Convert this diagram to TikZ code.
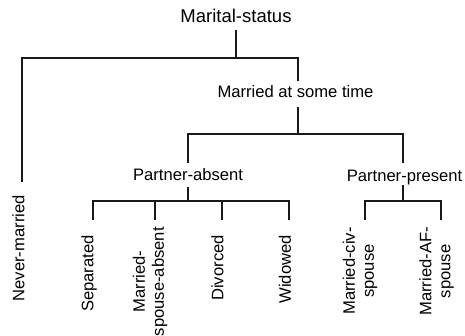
\documentclass[tikz,border=0pt]{standalone}
\usepackage{fontspec}
\setmainfont{Liberation Sans}
\newcommand\lblfont{\fontsize{16.6}{19}\selectfont}
\newcommand\rootfont{\fontsize{18.5}{22}\selectfont}
\begin{document}
\begin{tikzpicture}[x=1pt,y=-1pt,
  tree/.style={line width=1.25pt, draw=black!90},
  lbl/.style={inner sep=0pt, font=\lblfont, text=black},
  leaf/.style={lbl, rotate=90, anchor=east, align=center}]
\useasboundingbox (0,0) rectangle (465,336);
% labels
\node[lbl, font=\rootfont, anchor=base] (root) at (236,22.7) {Marital-status};
\node[lbl, anchor=base] (mast) at (295.5,97.7) {Married at some time};
\node[lbl, anchor=base] (pabs) at (188,180.7) {Partner-absent};
\node[lbl, anchor=base] (ppres) at (404.5,181.5) {Partner-present};
\node[leaf] (nm) at (18.5,195) {Never-married};
\node[leaf] (sep) at (89,235) {Separated};
\node[leaf] (msa) at (150,227) {Married-\\spouse-absent};
\node[leaf] (div) at (217.5,235) {Divorced};
\node[leaf] (wid) at (285,235) {Widowed};
\node[leaf] (mcs) at (360,227) {Married-civ-\\spouse};
\node[leaf] (maf) at (436.5,227) {Married-AF-\\spouse};
% junctions and line ends
\coordinate (j0) at (236,58);
\coordinate (nmE) at (22,182);
\coordinate (mastN) at (298,81);
\coordinate (mastS) at (298,107);
\coordinate (j1) at (298,134);
\coordinate (pabsN) at (188,163);
\coordinate (ppresN) at (403,163);
\coordinate (pabsS) at (188,187);
\coordinate (j2) at (188,201);
\coordinate (ppresS) at (403,185);
\coordinate (j3) at (403,201);
\coordinate (sepE) at (93,220);
\coordinate (msaE) at (155,220);
\coordinate (divE) at (222,220);
\coordinate (widE) at (289,220);
\coordinate (mcsE) at (365,220);
\coordinate (mafE) at (441,220);
% connectors
\draw[tree] (root.base) ++(0,7.3) -- (j0);
\draw[tree] (nmE) |- (j0) -| (mastN);
\draw[tree] (mastS) -- (j1);
\draw[tree] (pabsN) |- (j1) -| (ppresN);
\draw[tree] (pabsS) -- (j2);
\draw[tree] (sepE) |- (j2) -| (widE);
\draw[tree] (msaE) -- (msaE |- j2);
\draw[tree] (divE) -- (divE |- j2);
\draw[tree] (ppresS) -- (j3);
\draw[tree] (mcsE) |- (j3) -| (mafE);
\end{tikzpicture}
\end{document}
